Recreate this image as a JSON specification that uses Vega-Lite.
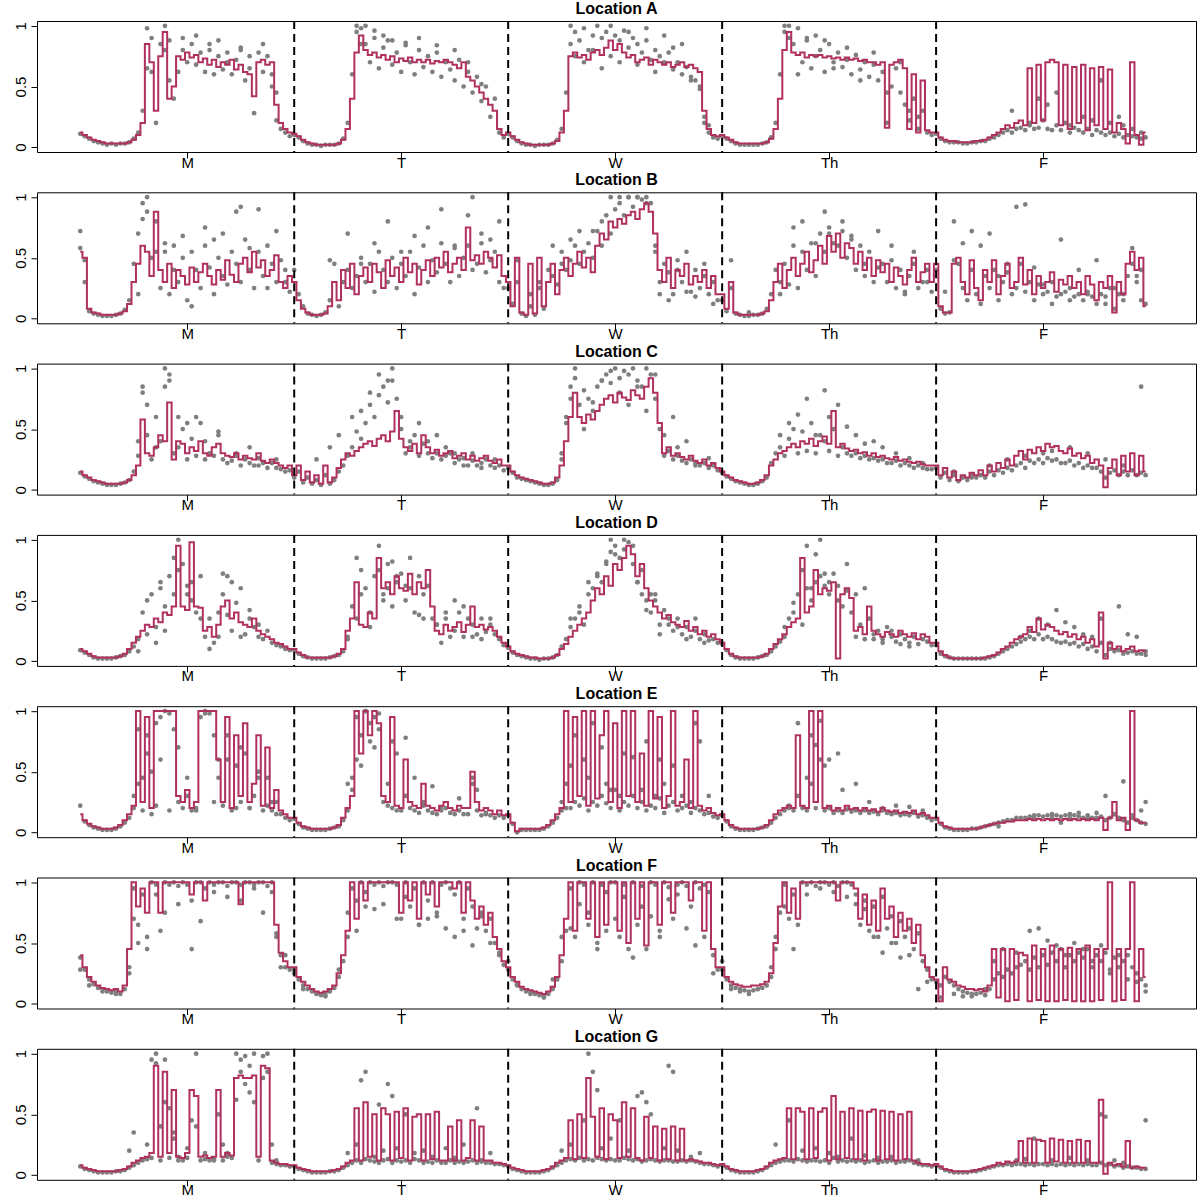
{
  "$schema": "https://vega.github.io/schema/vega-lite/v6.json",
  "background": "white",
  "padding": {"left": 12, "top": 0, "right": 3, "bottom": 0},
  "config": {
    "view": {"stroke": "black", "strokeWidth": 1},
    "axis": {"grid": false, "domain": false, "tickColor": "black", "tickSize": 6, "labelColor": "black", "labelFontSize": 15, "labelFont": "Liberation Sans"},
    "axisX": {"labelPadding": -3},
    "axisY": {"labelAngle": -90, "labelAlign": "center", "labelBaseline": "bottom", "labelPadding": 3},
    "title": {"fontSize": 16, "fontWeight": "bold", "font": "Liberation Sans", "color": "black", "offset": 3},
    "circle": {"size": 22, "color": "#7f7f7f", "opacity": 1},
    "line": {"color": "#b03060", "strokeWidth": 2, "interpolate": "step"}
  },
  "datasets": {
    "A": [
{"t":0,"y":12,"g":11},{"t":1,"y":10,"g":9},{"t":2,"y":8,"g":7},{"t":3,"y":6,"g":5},{"t":4,"y":5,"g":4},{"t":5,"y":4,"g":3},{"t":6,"y":3,"g":2},{"t":7,"y":3,"g":3},{"t":8,"y":3,"g":2},{"t":9,"y":3,"g":3},
{"t":10,"y":3,"g":3},{"t":11,"y":4,"g":4},{"t":12,"y":6,"g":7},{"t":13,"y":10,"g":12},{"t":14,"y":20,"g":30},{"t":15,"y":85,"g":65,"h":98},{"t":16,"y":70,"g":90,"h":62},{"t":17,"y":30,"g":20},{"t":18,"y":75,"g":85},{"t":19,"y":95,"g":80,"h":100},
{"t":20,"y":40,"g":55,"h":88},{"t":21,"y":50,"g":40},{"t":22,"y":75,"g":62},{"t":23,"y":72,"g":80,"h":90},{"t":24,"y":78,"g":70},{"t":25,"y":74,"g":85},{"t":26,"y":76,"g":68,"h":92},{"t":27,"y":70,"g":78},{"t":28,"y":73,"g":62},{"t":29,"y":68,"g":80,"h":85},
{"t":30,"y":72,"g":60},{"t":31,"y":66,"g":75,"h":88},{"t":32,"y":70,"g":64},{"t":33,"y":68,"g":78,"h":70},{"t":34,"y":72,"g":60},{"t":35,"y":64,"g":72},{"t":36,"y":68,"g":80,"h":82},{"t":37,"y":62,"g":55},{"t":38,"y":60,"g":65,"h":75},{"t":39,"y":42,"g":28},
{"t":40,"y":70,"g":78},{"t":41,"y":72,"g":62,"h":85},{"t":42,"y":68,"g":75},{"t":43,"y":70,"g":60,"h":50},{"t":44,"y":35,"g":45,"h":22},{"t":45,"y":20,"g":15},{"t":46,"y":15,"g":12},{"t":47,"y":12,"g":9},
{"t":48,"y":11,"g":10},{"t":49,"y":9,"g":8},{"t":50,"y":6,"g":5},{"t":51,"y":4,"g":3},{"t":52,"y":3,"g":2},{"t":53,"y":2,"g":2},{"t":54,"y":2,"g":1},{"t":55,"y":2,"g":2},{"t":56,"y":2,"g":2},{"t":57,"y":2,"g":2},
{"t":58,"y":3,"g":3},{"t":59,"y":6,"g":7},{"t":60,"y":15,"g":20},{"t":61,"y":40,"g":60},{"t":62,"y":78,"g":95,"h":100},{"t":63,"y":92,"g":85,"h":98},{"t":64,"y":80,"g":100,"h":85},{"t":65,"y":76,"g":70},{"t":66,"y":78,"g":90,"h":96},{"t":67,"y":74,"g":65},
{"t":68,"y":76,"g":82,"h":92},{"t":69,"y":72,"g":88},{"t":70,"y":75,"g":68,"h":88},{"t":71,"y":70,"g":78},{"t":72,"y":73,"g":62},{"t":73,"y":71,"g":84,"h":86},{"t":74,"y":74,"g":70},{"t":75,"y":70,"g":60},{"t":76,"y":72,"g":80,"h":90},{"t":77,"y":70,"g":66},
{"t":78,"y":72,"g":75},{"t":79,"y":69,"g":62},{"t":80,"y":71,"g":78,"h":84},{"t":81,"y":70,"g":58},{"t":82,"y":72,"g":70},{"t":83,"y":70,"g":64},{"t":84,"y":68,"g":55,"h":80},{"t":85,"y":65,"g":72},{"t":86,"y":70,"g":50},{"t":87,"y":58,"g":62,"h":70},
{"t":88,"y":55,"g":45},{"t":89,"y":50,"g":58},{"t":90,"y":45,"g":38,"h":52},{"t":91,"y":40,"g":50},{"t":92,"y":35,"g":25},{"t":93,"y":30,"g":40},{"t":94,"y":15,"g":12},{"t":95,"y":10,"g":8},
{"t":96,"y":12,"g":11},{"t":97,"y":9,"g":8},{"t":98,"y":6,"g":5},{"t":99,"y":4,"g":3},{"t":100,"y":3,"g":2},{"t":101,"y":2,"g":2},{"t":102,"y":2,"g":1},{"t":103,"y":2,"g":2},{"t":104,"y":2,"g":2},{"t":105,"y":2,"g":2},
{"t":106,"y":3,"g":3},{"t":107,"y":5,"g":6},{"t":108,"y":12,"g":15},{"t":109,"y":30,"g":45},{"t":110,"y":75,"g":85,"h":100},{"t":111,"y":78,"g":95,"h":75},{"t":112,"y":74,"g":88},{"t":113,"y":76,"g":98,"h":70},{"t":114,"y":72,"g":80},{"t":115,"y":78,"g":92,"h":80},
{"t":116,"y":80,"g":100},{"t":117,"y":76,"g":90,"h":65},{"t":118,"y":82,"g":95},{"t":119,"y":88,"g":100,"h":75},{"t":120,"y":80,"g":92},{"t":121,"y":85,"g":88,"h":70},{"t":122,"y":78,"g":96},{"t":123,"y":74,"g":82,"h":95},{"t":124,"y":76,"g":90},{"t":125,"y":70,"g":85,"h":68},
{"t":126,"y":72,"g":78},{"t":127,"y":74,"g":88,"h":98},{"t":128,"y":68,"g":72},{"t":129,"y":72,"g":80,"h":62},{"t":130,"y":70,"g":75},{"t":131,"y":68,"g":70,"h":92},{"t":132,"y":70,"g":78},{"t":133,"y":66,"g":64,"h":82},{"t":134,"y":68,"g":70},{"t":135,"y":70,"g":60,"h":85},
{"t":136,"y":66,"g":66},{"t":137,"y":68,"g":58,"h":55},{"t":138,"y":65,"g":55},{"t":139,"y":62,"g":50,"h":48},{"t":140,"y":30,"g":20,"h":25},{"t":141,"y":15,"g":12,"h":18},{"t":142,"y":10,"g":8},{"t":143,"y":9,"g":7},
{"t":144,"y":10,"g":9},{"t":145,"y":8,"g":7},{"t":146,"y":6,"g":5},{"t":147,"y":4,"g":3},{"t":148,"y":3,"g":2},{"t":149,"y":3,"g":2},{"t":150,"y":3,"g":2},{"t":151,"y":3,"g":2},{"t":152,"y":3,"g":2},{"t":153,"y":3,"g":3},
{"t":154,"y":4,"g":4},{"t":155,"y":7,"g":8},{"t":156,"y":15,"g":20},{"t":157,"y":40,"g":60},{"t":158,"y":80,"g":100,"h":95},{"t":159,"y":95,"g":90,"h":100},{"t":160,"y":78,"g":85},{"t":161,"y":76,"g":98,"h":60},{"t":162,"y":78,"g":70},{"t":163,"y":74,"g":88,"h":90},
{"t":164,"y":76,"g":65},{"t":165,"y":75,"g":92,"h":75},{"t":166,"y":76,"g":80},{"t":167,"y":74,"g":62,"h":88},{"t":168,"y":75,"g":85},{"t":169,"y":73,"g":70,"h":65},{"t":170,"y":74,"g":78},{"t":171,"y":72,"g":66},{"t":172,"y":74,"g":72,"h":82},{"t":173,"y":72,"g":60},
{"t":174,"y":73,"g":76},{"t":175,"y":71,"g":64,"h":55},{"t":176,"y":72,"g":70},{"t":177,"y":70,"g":58},{"t":178,"y":70,"g":68,"h":78},{"t":179,"y":68,"g":55},{"t":180,"y":70,"g":62},{"t":181,"y":16,"g":20,"h":45},{"t":182,"y":68,"g":50},{"t":183,"y":70,"g":65},
{"t":184,"y":72,"g":45,"h":70},{"t":185,"y":65,"g":35},{"t":186,"y":15,"g":22,"h":30},{"t":187,"y":60,"g":40},{"t":188,"y":12,"g":15,"h":25},{"t":189,"y":55,"g":30},{"t":190,"y":14,"g":12},{"t":191,"y":12,"g":10},
{"t":192,"y":12,"g":11},{"t":193,"y":8,"g":7},{"t":194,"y":6,"g":5},{"t":195,"y":5,"g":4},{"t":196,"y":5,"g":4},{"t":197,"y":4,"g":4},{"t":198,"y":4,"g":3},{"t":199,"y":4,"g":3},{"t":200,"y":4,"g":4},{"t":201,"y":5,"g":4},
{"t":202,"y":5,"g":5},{"t":203,"y":6,"g":5},{"t":204,"y":8,"g":7},{"t":205,"y":10,"g":8},{"t":206,"y":12,"g":10},{"t":207,"y":15,"g":12},{"t":208,"y":18,"g":14},{"t":209,"y":16,"g":12,"h":30},{"t":210,"y":20,"g":15},{"t":211,"y":22,"g":16},
{"t":212,"y":18,"g":14},{"t":213,"y":65,"g":18,"h":20},{"t":214,"y":20,"g":15},{"t":215,"y":68,"g":16,"h":40},{"t":216,"y":22,"g":22},{"t":217,"y":70,"g":15,"h":35},{"t":218,"y":72,"g":14},{"t":219,"y":70,"g":18,"h":45},{"t":220,"y":18,"g":14},{"t":221,"y":68,"g":20},
{"t":222,"y":15,"g":12,"h":18},{"t":223,"y":66,"g":16},{"t":224,"y":20,"g":14},{"t":225,"y":68,"g":12,"h":25},{"t":226,"y":14,"g":15},{"t":227,"y":65,"g":10,"h":22},{"t":228,"y":18,"g":14},{"t":229,"y":66,"g":12,"h":55},{"t":230,"y":15,"g":10},{"t":231,"y":64,"g":12,"h":20},
{"t":232,"y":12,"g":9},{"t":233,"y":20,"g":11,"h":25},{"t":234,"y":15,"g":8,"h":18},{"t":235,"y":3,"g":10},{"t":236,"y":70,"g":9,"h":15},{"t":237,"y":10,"g":8},{"t":238,"y":2,"g":7,"h":12},{"t":239,"y":12,"g":8}
    ],
    "B": [
{"t":0,"y":55,"g":58,"h":72},{"t":1,"y":50,"g":30,"h":48},{"t":2,"y":8,"g":6},{"t":3,"y":5,"g":4},{"t":4,"y":4,"g":3},{"t":5,"y":3,"g":2},{"t":6,"y":3,"g":2},{"t":7,"y":3,"g":2},{"t":8,"y":3,"g":3},{"t":9,"y":4,"g":4},
{"t":10,"y":6,"g":7},{"t":11,"y":12,"g":15},{"t":12,"y":30,"g":45},{"t":13,"y":45,"g":70,"h":20},{"t":14,"y":60,"g":95,"h":82},{"t":15,"y":55,"g":100,"h":88},{"t":16,"y":35,"g":50},{"t":17,"y":88,"g":80,"h":55},{"t":18,"y":40,"g":25},{"t":19,"y":30,"g":55,"h":62},
{"t":20,"y":45,"g":20},{"t":21,"y":25,"g":60,"h":40},{"t":22,"y":40,"g":30},{"t":23,"y":35,"g":50,"h":68},{"t":24,"y":28,"g":15},{"t":25,"y":42,"g":55,"h":10},{"t":26,"y":30,"g":40},{"t":27,"y":38,"g":25},{"t":28,"y":45,"g":60,"h":75},{"t":29,"y":35,"g":42},
{"t":30,"y":28,"g":20,"h":65},{"t":31,"y":40,"g":50},{"t":32,"y":32,"g":35,"h":70},{"t":33,"y":48,"g":28},{"t":34,"y":36,"g":55},{"t":35,"y":30,"g":45,"h":88},{"t":36,"y":45,"g":30,"h":92},{"t":37,"y":50,"g":65},{"t":38,"y":38,"g":40,"h":58},{"t":39,"y":55,"g":25},
{"t":40,"y":42,"g":55,"h":90},{"t":41,"y":48,"g":35},{"t":42,"y":35,"g":60,"h":25},{"t":43,"y":40,"g":45},{"t":44,"y":52,"g":30,"h":72},{"t":45,"y":30,"g":48},{"t":46,"y":25,"g":40,"h":30},{"t":47,"y":35,"g":22},
{"t":48,"y":30,"g":40},{"t":49,"y":15,"g":20},{"t":50,"y":8,"g":10},{"t":51,"y":5,"g":4},{"t":52,"y":3,"g":3},{"t":53,"y":3,"g":2},{"t":54,"y":3,"g":3},{"t":55,"y":4,"g":5},{"t":56,"y":10,"g":15,"h":48},{"t":57,"y":30,"g":45},
{"t":58,"y":15,"g":10},{"t":59,"y":40,"g":30},{"t":60,"y":25,"g":40,"h":70},{"t":61,"y":45,"g":25},{"t":62,"y":20,"g":35},{"t":63,"y":35,"g":50,"h":45},{"t":64,"y":42,"g":30},{"t":65,"y":30,"g":45},{"t":66,"y":45,"g":22,"h":62},{"t":67,"y":38,"g":55},
{"t":68,"y":25,"g":40},{"t":69,"y":48,"g":30,"h":80},{"t":70,"y":35,"g":50},{"t":71,"y":42,"g":25},{"t":72,"y":30,"g":45,"h":55},{"t":73,"y":50,"g":35},{"t":74,"y":38,"g":55},{"t":75,"y":45,"g":20,"h":68},{"t":76,"y":28,"g":42},{"t":77,"y":40,"g":60},
{"t":78,"y":48,"g":30,"h":75},{"t":79,"y":35,"g":48},{"t":80,"y":50,"g":38},{"t":81,"y":42,"g":62,"h":90},{"t":82,"y":55,"g":45},{"t":83,"y":38,"g":30},{"t":84,"y":45,"g":58,"h":60},{"t":85,"y":50,"g":35},{"t":86,"y":40,"g":50},{"t":87,"y":75,"g":60,"h":85},
{"t":88,"y":48,"g":40,"h":100},{"t":89,"y":52,"g":45},{"t":90,"y":45,"g":62,"h":70},{"t":91,"y":55,"g":38},{"t":92,"y":50,"g":48,"h":65},{"t":93,"y":42,"g":55},{"t":94,"y":52,"g":30,"h":80},{"t":95,"y":35,"g":25},
{"t":96,"y":30,"g":25},{"t":97,"y":10,"g":12},{"t":98,"y":50,"g":30,"h":48},{"t":99,"y":5,"g":4},{"t":100,"y":3,"g":2},{"t":101,"y":45,"g":20,"h":10},{"t":102,"y":4,"g":3},{"t":103,"y":50,"g":30,"h":25},{"t":104,"y":10,"g":8},{"t":105,"y":30,"g":40},
{"t":106,"y":45,"g":35,"h":60},{"t":107,"y":20,"g":28},{"t":108,"y":40,"g":55,"h":45},{"t":109,"y":50,"g":40},{"t":110,"y":35,"g":48,"h":65},{"t":111,"y":45,"g":60},{"t":112,"y":55,"g":45,"h":72},{"t":113,"y":42,"g":55},{"t":114,"y":50,"g":62},{"t":115,"y":38,"g":50,"h":72},
{"t":116,"y":60,"g":72},{"t":117,"y":70,"g":60,"h":80},{"t":118,"y":65,"g":85},{"t":119,"y":80,"g":70,"h":100},{"t":120,"y":75,"g":90},{"t":121,"y":82,"g":95,"h":100},{"t":122,"y":78,"g":85},{"t":123,"y":85,"g":100,"h":100},{"t":124,"y":88,"g":92},{"t":125,"y":82,"g":100,"h":100},
{"t":126,"y":90,"g":98},{"t":127,"y":95,"g":100,"h":95},{"t":128,"y":88,"g":95},{"t":129,"y":70,"g":60,"h":55},{"t":130,"y":40,"g":30,"h":20},{"t":131,"y":30,"g":45},{"t":132,"y":50,"g":38,"h":15},{"t":133,"y":25,"g":20},{"t":134,"y":40,"g":48,"h":40},{"t":135,"y":35,"g":30},
{"t":136,"y":45,"g":55,"h":22},{"t":137,"y":28,"g":22},{"t":138,"y":35,"g":40,"h":18},{"t":139,"y":30,"g":25},{"t":140,"y":40,"g":35,"h":45},{"t":141,"y":25,"g":20},{"t":142,"y":35,"g":30,"h":12},{"t":143,"y":20,"g":15},
{"t":144,"y":20,"g":15},{"t":145,"y":8,"g":6},{"t":146,"y":30,"g":25,"h":48},{"t":147,"y":5,"g":4},{"t":148,"y":3,"g":3},{"t":149,"y":3,"g":2},{"t":150,"y":3,"g":2,"h":5},{"t":151,"y":3,"g":3},{"t":152,"y":3,"g":3},{"t":153,"y":4,"g":4},
{"t":154,"y":6,"g":8},{"t":155,"y":15,"g":20},{"t":156,"y":30,"g":40},{"t":157,"y":45,"g":30,"h":20},{"t":158,"y":25,"g":45},{"t":159,"y":40,"g":28},{"t":160,"y":50,"g":60,"h":75},{"t":161,"y":35,"g":25},{"t":162,"y":45,"g":55,"h":80},{"t":163,"y":55,"g":40},
{"t":164,"y":38,"g":62},{"t":165,"y":48,"g":35,"h":62},{"t":166,"y":60,"g":70},{"t":167,"y":45,"g":55,"h":88},{"t":168,"y":68,"g":75,"h":70},{"t":169,"y":55,"g":62},{"t":170,"y":70,"g":60},{"t":171,"y":50,"g":72,"h":80},{"t":172,"y":62,"g":50},{"t":173,"y":58,"g":65,"h":68},
{"t":174,"y":45,"g":40},{"t":175,"y":55,"g":60},{"t":176,"y":40,"g":35,"h":45},{"t":177,"y":50,"g":55},{"t":178,"y":35,"g":30},{"t":179,"y":48,"g":42,"h":72},{"t":180,"y":38,"g":45},{"t":181,"y":45,"g":30},{"t":182,"y":30,"g":48,"h":60},{"t":183,"y":42,"g":25},
{"t":184,"y":35,"g":40},{"t":185,"y":28,"g":22,"h":20},{"t":186,"y":40,"g":35},{"t":187,"y":50,"g":45,"h":55},{"t":188,"y":30,"g":25},{"t":189,"y":38,"g":30},{"t":190,"y":45,"g":40,"h":30},{"t":191,"y":30,"g":22},
{"t":192,"y":45,"g":40},{"t":193,"y":10,"g":8},{"t":194,"y":5,"g":4,"h":22},{"t":195,"y":5,"g":5},{"t":196,"y":45,"g":48,"h":80},{"t":197,"y":50,"g":45},{"t":198,"y":30,"g":25,"h":62},{"t":199,"y":20,"g":15},{"t":200,"y":48,"g":40,"h":72},{"t":201,"y":25,"g":20},
{"t":202,"y":15,"g":12,"h":60},{"t":203,"y":40,"g":35},{"t":204,"y":30,"g":25,"h":70},{"t":205,"y":48,"g":40},{"t":206,"y":20,"g":15,"h":35},{"t":207,"y":35,"g":30},{"t":208,"y":45,"g":38,"h":45},{"t":209,"y":25,"g":20},{"t":210,"y":30,"g":25,"h":92},{"t":211,"y":50,"g":45},
{"t":212,"y":28,"g":22,"h":94},{"t":213,"y":40,"g":30},{"t":214,"y":20,"g":15,"h":42},{"t":215,"y":35,"g":28},{"t":216,"y":25,"g":20,"h":28},{"t":217,"y":30,"g":22},{"t":218,"y":38,"g":30,"h":12},{"t":219,"y":22,"g":18},{"t":220,"y":32,"g":20,"h":65},{"t":221,"y":28,"g":22},
{"t":222,"y":35,"g":25,"h":15},{"t":223,"y":25,"g":18},{"t":224,"y":30,"g":20,"h":40},{"t":225,"y":20,"g":15},{"t":226,"y":35,"g":22,"h":20},{"t":227,"y":28,"g":18},{"t":228,"y":15,"g":12,"h":48},{"t":229,"y":30,"g":20},{"t":230,"y":25,"g":18,"h":12},{"t":231,"y":35,"g":25},
{"t":232,"y":5,"g":8,"h":25},{"t":233,"y":30,"g":20},{"t":234,"y":20,"g":15,"h":20},{"t":235,"y":45,"g":35},{"t":236,"y":55,"g":45,"h":58},{"t":237,"y":40,"g":30,"h":35},{"t":238,"y":50,"g":40,"h":15},{"t":239,"y":10,"g":12}
    ],
    "C": [
{"t":0,"y":15,"g":14},{"t":1,"y":12,"g":11},{"t":2,"y":10,"g":9},{"t":3,"y":8,"g":7},{"t":4,"y":7,"g":6},{"t":5,"y":6,"g":5},{"t":6,"y":5,"g":4},{"t":7,"y":5,"g":4},{"t":8,"y":5,"g":4},{"t":9,"y":5,"g":5},
{"t":10,"y":6,"g":6},{"t":11,"y":8,"g":8},{"t":12,"y":12,"g":15},{"t":13,"y":20,"g":28,"h":40},{"t":14,"y":58,"g":80,"h":85},{"t":15,"y":30,"g":45,"h":70},{"t":16,"y":28,"g":25},{"t":17,"y":35,"g":60,"h":35},{"t":18,"y":45,"g":40},{"t":19,"y":40,"g":85,"h":100},
{"t":20,"y":72,"g":95,"h":90},{"t":21,"y":25,"g":30},{"t":22,"y":40,"g":35,"h":60},{"t":23,"y":38,"g":50},{"t":24,"y":30,"g":25,"h":55},{"t":25,"y":35,"g":42},{"t":26,"y":32,"g":28,"h":60},{"t":27,"y":40,"g":55},{"t":28,"y":30,"g":25,"h":40},{"t":29,"y":28,"g":30},
{"t":30,"y":35,"g":28},{"t":31,"y":38,"g":45,"h":48},{"t":32,"y":30,"g":25},{"t":33,"y":28,"g":22},{"t":34,"y":27,"g":24},{"t":35,"y":30,"g":28,"h":30},{"t":36,"y":25,"g":20},{"t":37,"y":28,"g":25},{"t":38,"y":26,"g":22,"h":35},{"t":39,"y":25,"g":20},
{"t":40,"y":30,"g":26,"h":20},{"t":41,"y":24,"g":22},{"t":42,"y":22,"g":18},{"t":43,"y":25,"g":22},{"t":44,"y":22,"g":18,"h":25},{"t":45,"y":20,"g":17},{"t":46,"y":18,"g":15},{"t":47,"y":20,"g":16},
{"t":48,"y":12,"g":10},{"t":49,"y":20,"g":15},{"t":50,"y":8,"g":6},{"t":51,"y":15,"g":10},{"t":52,"y":6,"g":5},{"t":53,"y":12,"g":8,"h":25},{"t":54,"y":5,"g":4},{"t":55,"y":20,"g":12},{"t":56,"y":6,"g":5,"h":35},{"t":57,"y":10,"g":8},
{"t":58,"y":18,"g":15,"h":45},{"t":59,"y":25,"g":20},{"t":60,"y":30,"g":28},{"t":61,"y":28,"g":35,"h":60},{"t":62,"y":32,"g":48},{"t":63,"y":35,"g":42,"h":65},{"t":64,"y":38,"g":55},{"t":65,"y":40,"g":70,"h":80},{"t":66,"y":36,"g":60},{"t":67,"y":42,"g":78,"h":95},
{"t":68,"y":45,"g":85},{"t":69,"y":40,"g":72,"h":90},{"t":70,"y":48,"g":90,"h":100},{"t":71,"y":65,"g":75},{"t":72,"y":42,"g":50,"h":60},{"t":73,"y":35,"g":30},{"t":74,"y":32,"g":40,"h":35},{"t":75,"y":38,"g":45},{"t":76,"y":30,"g":28,"h":55},{"t":77,"y":45,"g":38},
{"t":78,"y":35,"g":30,"h":40},{"t":79,"y":30,"g":26},{"t":80,"y":33,"g":30,"h":45},{"t":81,"y":28,"g":25},{"t":82,"y":30,"g":28,"h":35},{"t":83,"y":32,"g":30},{"t":84,"y":26,"g":22,"h":30},{"t":85,"y":28,"g":25},{"t":86,"y":30,"g":26,"h":20},{"t":87,"y":25,"g":20},
{"t":88,"y":28,"g":24,"h":30},{"t":89,"y":24,"g":20},{"t":90,"y":26,"g":22,"h":18},{"t":91,"y":28,"g":25},{"t":92,"y":24,"g":20},{"t":93,"y":22,"g":18,"h":25},{"t":94,"y":25,"g":20},{"t":95,"y":20,"g":16},
{"t":96,"y":20,"g":18},{"t":97,"y":15,"g":14},{"t":98,"y":12,"g":10},{"t":99,"y":10,"g":9},{"t":100,"y":9,"g":8},{"t":101,"y":8,"g":7},{"t":102,"y":7,"g":6},{"t":103,"y":6,"g":5},{"t":104,"y":5,"g":4},{"t":105,"y":5,"g":4},
{"t":106,"y":6,"g":5},{"t":107,"y":10,"g":8},{"t":108,"y":20,"g":25,"h":30},{"t":109,"y":40,"g":60,"h":55},{"t":110,"y":60,"g":85,"h":75},{"t":111,"y":80,"g":100,"h":92},{"t":112,"y":60,"g":70},{"t":113,"y":55,"g":50,"h":82},{"t":114,"y":62,"g":75},{"t":115,"y":58,"g":65,"h":72},
{"t":116,"y":65,"g":85},{"t":117,"y":70,"g":90,"h":90},{"t":118,"y":75,"g":95},{"t":119,"y":78,"g":88,"h":98},{"t":120,"y":72,"g":100},{"t":121,"y":80,"g":92,"h":80},{"t":122,"y":76,"g":98},{"t":123,"y":74,"g":95,"h":70},{"t":124,"y":82,"g":100},{"t":125,"y":78,"g":90,"h":85},
{"t":126,"y":75,"g":85},{"t":127,"y":85,"g":100,"h":65},{"t":128,"y":92,"g":95},{"t":129,"y":80,"g":75,"h":95},{"t":130,"y":55,"g":50},{"t":131,"y":30,"g":28,"h":45},{"t":132,"y":35,"g":32},{"t":133,"y":28,"g":25,"h":60},{"t":134,"y":30,"g":28,"h":35},{"t":135,"y":27,"g":24},
{"t":136,"y":25,"g":22,"h":40},{"t":137,"y":28,"g":25},{"t":138,"y":24,"g":20,"h":22},{"t":139,"y":22,"g":20},{"t":140,"y":25,"g":22},{"t":141,"y":20,"g":18,"h":26},{"t":142,"y":22,"g":20},{"t":143,"y":18,"g":16},
{"t":144,"y":15,"g":14},{"t":145,"y":12,"g":11},{"t":146,"y":10,"g":9},{"t":147,"y":8,"g":7},{"t":148,"y":7,"g":6},{"t":149,"y":6,"g":5},{"t":150,"y":5,"g":4},{"t":151,"y":5,"g":4},{"t":152,"y":6,"g":5},{"t":153,"y":8,"g":7},
{"t":154,"y":12,"g":10},{"t":155,"y":20,"g":22},{"t":156,"y":25,"g":30},{"t":157,"y":30,"g":35,"h":45},{"t":158,"y":32,"g":28},{"t":159,"y":35,"g":42,"h":55},{"t":160,"y":38,"g":50},{"t":161,"y":35,"g":30,"h":62},{"t":162,"y":40,"g":48},{"t":163,"y":38,"g":32,"h":75},
{"t":164,"y":42,"g":55},{"t":165,"y":36,"g":30,"h":45},{"t":166,"y":40,"g":45},{"t":167,"y":44,"g":40,"h":82},{"t":168,"y":38,"g":32,"h":60},{"t":169,"y":65,"g":50},{"t":170,"y":35,"g":28,"h":70},{"t":171,"y":38,"g":35},{"t":172,"y":34,"g":30,"h":52},{"t":173,"y":32,"g":28},
{"t":174,"y":33,"g":30,"h":45},{"t":175,"y":30,"g":26},{"t":176,"y":31,"g":28,"h":38},{"t":177,"y":28,"g":25},{"t":178,"y":30,"g":26,"h":40},{"t":179,"y":27,"g":24},{"t":180,"y":28,"g":25,"h":35},{"t":181,"y":26,"g":22},{"t":182,"y":25,"g":22},{"t":183,"y":27,"g":24,"h":30},
{"t":184,"y":24,"g":20},{"t":185,"y":25,"g":22},{"t":186,"y":23,"g":20,"h":26},{"t":187,"y":22,"g":18},{"t":188,"y":23,"g":20},{"t":189,"y":21,"g":18,"h":22},{"t":190,"y":20,"g":17},{"t":191,"y":20,"g":17},
{"t":192,"y":20,"g":18},{"t":193,"y":12,"g":10},{"t":194,"y":18,"g":14},{"t":195,"y":10,"g":8},{"t":196,"y":15,"g":12,"h":15},{"t":197,"y":8,"g":7},{"t":198,"y":12,"g":10},{"t":199,"y":10,"g":8},{"t":200,"y":14,"g":12,"h":10},{"t":201,"y":12,"g":10},
{"t":202,"y":16,"g":12},{"t":203,"y":12,"g":10},{"t":204,"y":20,"g":15,"h":20},{"t":205,"y":15,"g":12},{"t":206,"y":22,"g":16},{"t":207,"y":18,"g":14},{"t":208,"y":25,"g":18,"h":25},{"t":209,"y":20,"g":16},{"t":210,"y":28,"g":20},{"t":211,"y":32,"g":22},
{"t":212,"y":25,"g":18,"h":28},{"t":213,"y":33,"g":24},{"t":214,"y":30,"g":22},{"t":215,"y":35,"g":25},{"t":216,"y":32,"g":22,"h":30},{"t":217,"y":38,"g":26},{"t":218,"y":35,"g":24,"h":32},{"t":219,"y":36,"g":25},{"t":220,"y":32,"g":22},{"t":221,"y":30,"g":22},
{"t":222,"y":34,"g":24,"h":35},{"t":223,"y":28,"g":20},{"t":224,"y":30,"g":22},{"t":225,"y":26,"g":18},{"t":226,"y":28,"g":20,"h":30},{"t":227,"y":22,"g":18},{"t":228,"y":25,"g":18},{"t":229,"y":20,"g":15},{"t":230,"y":2,"g":10,"h":25},{"t":231,"y":18,"g":14},
{"t":232,"y":25,"g":16},{"t":233,"y":12,"g":12},{"t":234,"y":28,"g":15,"h":20},{"t":235,"y":15,"g":12},{"t":236,"y":30,"g":16},{"t":237,"y":12,"g":12},{"t":238,"y":28,"g":14,"h":85},{"t":239,"y":15,"g":12}
    ],
    "D": [
{"t":0,"y":10,"g":9},{"t":1,"y":8,"g":7},{"t":2,"y":6,"g":5},{"t":3,"y":4,"g":3},{"t":4,"y":3,"g":2},{"t":5,"y":3,"g":2},{"t":6,"y":3,"g":2},{"t":7,"y":3,"g":2},{"t":8,"y":3,"g":3},{"t":9,"y":4,"g":4},
{"t":10,"y":6,"g":5},{"t":11,"y":10,"g":8},{"t":12,"y":15,"g":12},{"t":13,"y":20,"g":18,"h":8},{"t":14,"y":25,"g":40},{"t":15,"y":30,"g":22,"h":50},{"t":16,"y":28,"g":55},{"t":17,"y":35,"g":28,"h":15},{"t":18,"y":32,"g":60,"h":65},{"t":19,"y":40,"g":45,"h":25},
{"t":20,"y":38,"g":70},{"t":21,"y":45,"g":55,"h":85},{"t":22,"y":95,"g":75,"h":100},{"t":23,"y":45,"g":80},{"t":24,"y":42,"g":62,"h":55},{"t":25,"y":98,"g":50,"h":65},{"t":26,"y":45,"g":40},{"t":27,"y":44,"g":70,"h":35},{"t":28,"y":25,"g":20},{"t":29,"y":28,"g":35,"h":10},
{"t":30,"y":20,"g":15},{"t":31,"y":30,"g":40,"h":20},{"t":32,"y":45,"g":55,"h":72},{"t":33,"y":50,"g":38,"h":70},{"t":34,"y":35,"g":25,"h":65},{"t":35,"y":40,"g":48},{"t":36,"y":32,"g":60,"h":20},{"t":37,"y":30,"g":22},{"t":38,"y":28,"g":35,"h":42},{"t":39,"y":35,"g":28},
{"t":40,"y":25,"g":20,"h":30},{"t":41,"y":22,"g":18},{"t":42,"y":20,"g":25},{"t":43,"y":18,"g":15},{"t":44,"y":15,"g":13},{"t":45,"y":14,"g":12},{"t":46,"y":12,"g":10},{"t":47,"y":10,"g":9},
{"t":48,"y":10,"g":9},{"t":49,"y":7,"g":6},{"t":50,"y":5,"g":4},{"t":51,"y":3,"g":3},{"t":52,"y":3,"g":2},{"t":53,"y":3,"g":2},{"t":54,"y":3,"g":2},{"t":55,"y":3,"g":2},{"t":56,"y":3,"g":3},{"t":57,"y":4,"g":4},
{"t":58,"y":6,"g":5},{"t":59,"y":10,"g":8},{"t":60,"y":25,"g":20,"h":18},{"t":61,"y":35,"g":45},{"t":62,"y":65,"g":35,"h":85},{"t":63,"y":30,"g":55,"h":75},{"t":64,"y":28,"g":60},{"t":65,"y":40,"g":28,"h":40},{"t":66,"y":35,"g":70},{"t":67,"y":85,"g":75,"h":95},
{"t":68,"y":60,"g":50,"h":55},{"t":69,"y":65,"g":80,"h":60},{"t":70,"y":55,"g":45,"h":82},{"t":71,"y":70,"g":65,"h":70},{"t":72,"y":60,"g":72},{"t":73,"y":58,"g":50,"h":62},{"t":74,"y":72,"g":60,"h":85},{"t":75,"y":55,"g":40},{"t":76,"y":65,"g":70,"h":38},{"t":77,"y":60,"g":55,"h":35},
{"t":78,"y":75,"g":62},{"t":79,"y":45,"g":35},{"t":80,"y":25,"g":30,"h":30},{"t":81,"y":22,"g":15},{"t":82,"y":30,"g":35,"h":40},{"t":83,"y":25,"g":20},{"t":84,"y":28,"g":25,"h":50},{"t":85,"y":32,"g":40},{"t":86,"y":24,"g":20,"h":45},{"t":87,"y":30,"g":35},
{"t":88,"y":45,"g":30,"h":20},{"t":89,"y":28,"g":22},{"t":90,"y":30,"g":35,"h":18},{"t":91,"y":26,"g":24},{"t":92,"y":28,"g":30,"h":35},{"t":93,"y":25,"g":22},{"t":94,"y":20,"g":18},{"t":95,"y":15,"g":13},
{"t":96,"y":12,"g":11},{"t":97,"y":8,"g":7},{"t":98,"y":6,"g":5},{"t":99,"y":5,"g":4},{"t":100,"y":4,"g":3},{"t":101,"y":3,"g":2},{"t":102,"y":3,"g":2},{"t":103,"y":2,"g":1},{"t":104,"y":2,"g":2},{"t":105,"y":2,"g":2},
{"t":106,"y":3,"g":3},{"t":107,"y":5,"g":5},{"t":108,"y":10,"g":12},{"t":109,"y":14,"g":18},{"t":110,"y":20,"g":28,"h":35},{"t":111,"y":25,"g":35},{"t":112,"y":30,"g":40,"h":45},{"t":113,"y":35,"g":30},{"t":114,"y":40,"g":55,"h":65},{"t":115,"y":50,"g":60},
{"t":116,"y":60,"g":72,"h":70},{"t":117,"y":55,"g":65},{"t":118,"y":70,"g":82,"h":80},{"t":119,"y":62,"g":90,"h":100},{"t":120,"y":80,"g":95,"h":88},{"t":121,"y":75,"g":85},{"t":122,"y":85,"g":100,"h":92},{"t":123,"y":95,"g":98},{"t":124,"y":88,"g":80,"h":95},{"t":125,"y":70,"g":65,"h":65},
{"t":126,"y":80,"g":75,"h":55},{"t":127,"y":60,"g":50,"h":42},{"t":128,"y":50,"g":40,"h":55},{"t":129,"y":45,"g":55,"h":50},{"t":130,"y":40,"g":30,"h":22},{"t":131,"y":35,"g":42},{"t":132,"y":38,"g":30,"h":35},{"t":133,"y":32,"g":25},{"t":134,"y":30,"g":35,"h":28},{"t":135,"y":28,"g":22},
{"t":136,"y":33,"g":28,"h":18},{"t":137,"y":25,"g":20},{"t":138,"y":28,"g":25,"h":35},{"t":139,"y":22,"g":18},{"t":140,"y":25,"g":22,"h":15},{"t":141,"y":20,"g":17},{"t":142,"y":22,"g":18},{"t":143,"y":18,"g":15},
{"t":144,"y":15,"g":14},{"t":145,"y":10,"g":9},{"t":146,"y":6,"g":5},{"t":147,"y":4,"g":3},{"t":148,"y":3,"g":2},{"t":149,"y":3,"g":2},{"t":150,"y":3,"g":2},{"t":151,"y":3,"g":2},{"t":152,"y":3,"g":3},{"t":153,"y":4,"g":4},
{"t":154,"y":6,"g":5},{"t":155,"y":10,"g":8},{"t":156,"y":14,"g":12},{"t":157,"y":18,"g":16},{"t":158,"y":22,"g":28,"h":20},{"t":159,"y":28,"g":35},{"t":160,"y":32,"g":40,"h":48},{"t":161,"y":35,"g":55},{"t":162,"y":85,"g":30,"h":75},{"t":163,"y":40,"g":60,"h":95},
{"t":164,"y":45,"g":50,"h":60},{"t":165,"y":75,"g":65,"h":88},{"t":166,"y":55,"g":70,"h":100},{"t":167,"y":60,"g":62,"h":72},{"t":168,"y":58,"g":55,"h":65},{"t":169,"y":65,"g":72},{"t":170,"y":2,"g":50,"h":62},{"t":171,"y":55,"g":45},{"t":172,"y":60,"g":58,"h":80},{"t":173,"y":52,"g":40},
{"t":174,"y":25,"g":20,"h":55},{"t":175,"y":28,"g":30},{"t":176,"y":22,"g":18,"h":60},{"t":177,"y":45,"g":35},{"t":178,"y":25,"g":22,"h":18},{"t":179,"y":22,"g":25},{"t":180,"y":20,"g":18,"h":15},{"t":181,"y":24,"g":28},{"t":182,"y":22,"g":20,"h":25},{"t":183,"y":20,"g":16},
{"t":184,"y":25,"g":22,"h":14},{"t":185,"y":22,"g":18},{"t":186,"y":20,"g":15,"h":12},{"t":187,"y":23,"g":20},{"t":188,"y":18,"g":14},{"t":189,"y":22,"g":18},{"t":190,"y":20,"g":16},{"t":191,"y":15,"g":13},
{"t":192,"y":15,"g":13},{"t":193,"y":8,"g":6},{"t":194,"y":5,"g":4},{"t":195,"y":3,"g":3},{"t":196,"y":2,"g":2},{"t":197,"y":2,"g":2},{"t":198,"y":2,"g":2},{"t":199,"y":2,"g":2},{"t":200,"y":2,"g":2},{"t":201,"y":2,"g":2},
{"t":202,"y":2,"g":2},{"t":203,"y":3,"g":2},{"t":204,"y":4,"g":3},{"t":205,"y":5,"g":4},{"t":206,"y":7,"g":6},{"t":207,"y":10,"g":8},{"t":208,"y":12,"g":10},{"t":209,"y":15,"g":12},{"t":210,"y":18,"g":14},{"t":211,"y":20,"g":16,"h":20},
{"t":212,"y":22,"g":18},{"t":213,"y":28,"g":20,"h":25},{"t":214,"y":24,"g":18},{"t":215,"y":35,"g":22,"h":35},{"t":216,"y":26,"g":18},{"t":217,"y":30,"g":20,"h":30},{"t":218,"y":28,"g":18},{"t":219,"y":25,"g":16,"h":42},{"t":220,"y":22,"g":15},{"t":221,"y":24,"g":16,"h":32},
{"t":222,"y":20,"g":14},{"t":223,"y":22,"g":15,"h":28},{"t":224,"y":18,"g":12},{"t":225,"y":20,"g":14,"h":22},{"t":226,"y":15,"g":10},{"t":227,"y":18,"g":12,"h":20},{"t":228,"y":12,"g":8},{"t":229,"y":40,"g":15,"h":35},{"t":230,"y":2,"g":5},{"t":231,"y":15,"g":10,"h":15},
{"t":232,"y":10,"g":8},{"t":233,"y":12,"g":9,"h":45},{"t":234,"y":8,"g":6},{"t":235,"y":10,"g":7,"h":22},{"t":236,"y":12,"g":8},{"t":237,"y":8,"g":6,"h":20},{"t":238,"y":9,"g":6},{"t":239,"y":8,"g":5,"h":8}
    ],
    "E": [
{"t":0,"y":15,"g":22},{"t":1,"y":10,"g":9},{"t":2,"y":7,"g":6},{"t":3,"y":5,"g":4},{"t":4,"y":4,"g":3},{"t":5,"y":3,"g":2},{"t":6,"y":3,"g":2},{"t":7,"y":3,"g":2},{"t":8,"y":4,"g":3},{"t":9,"y":6,"g":5},
{"t":10,"y":10,"g":8},{"t":11,"y":15,"g":12},{"t":12,"y":22,"g":20,"h":30},{"t":13,"y":100,"g":40,"h":85},{"t":14,"y":25,"g":18,"h":45},{"t":15,"y":95,"g":65,"h":80},{"t":16,"y":20,"g":15,"h":50},{"t":17,"y":100,"g":90,"h":22},{"t":18,"y":100,"g":95,"h":60},{"t":19,"y":100,"g":100},
{"t":20,"y":100,"g":98,"h":18},{"t":21,"y":100,"g":85},{"t":22,"y":30,"g":25,"h":70},{"t":23,"y":25,"g":20},{"t":24,"y":35,"g":30,"h":45},{"t":25,"y":20,"g":18},{"t":26,"y":25,"g":20,"h":18},{"t":27,"y":100,"g":95},{"t":28,"y":100,"g":100,"h":98},{"t":29,"y":100,"g":98},
{"t":30,"y":100,"g":80,"h":25},{"t":31,"y":60,"g":45,"h":60},{"t":32,"y":25,"g":22},{"t":33,"y":95,"g":60,"h":80},{"t":34,"y":20,"g":18},{"t":35,"y":80,"g":55,"h":20},{"t":36,"y":30,"g":25,"h":70},{"t":37,"y":90,"g":65},{"t":38,"y":25,"g":20,"h":20},{"t":39,"y":40,"g":30},
{"t":40,"y":80,"g":50,"h":45},{"t":41,"y":22,"g":18},{"t":42,"y":70,"g":45,"h":22},{"t":43,"y":20,"g":18,"h":25},{"t":44,"y":35,"g":25,"h":15},{"t":45,"y":18,"g":15},{"t":46,"y":15,"g":12},{"t":47,"y":12,"g":10},
{"t":48,"y":12,"g":11},{"t":49,"y":8,"g":7},{"t":50,"y":5,"g":4},{"t":51,"y":4,"g":3},{"t":52,"y":3,"g":2},{"t":53,"y":3,"g":2},{"t":54,"y":3,"g":2},{"t":55,"y":3,"g":2},{"t":56,"y":3,"g":3},{"t":57,"y":4,"g":4},
{"t":58,"y":6,"g":5},{"t":59,"y":12,"g":10},{"t":60,"y":20,"g":18,"h":40},{"t":61,"y":30,"g":35,"h":45},{"t":62,"y":100,"g":95,"h":60},{"t":63,"y":65,"g":55,"h":80},{"t":64,"y":100,"g":100,"h":100},{"t":65,"y":80,"g":75,"h":90},{"t":66,"y":100,"g":95,"h":70},{"t":67,"y":90,"g":85,"h":98},
{"t":68,"y":30,"g":25},{"t":69,"y":25,"g":22,"h":40},{"t":70,"y":95,"g":20,"h":75},{"t":71,"y":22,"g":18,"h":65},{"t":72,"y":20,"g":18},{"t":73,"y":60,"g":30,"h":78},{"t":74,"y":25,"g":20},{"t":75,"y":22,"g":18,"h":45},{"t":76,"y":20,"g":16},{"t":77,"y":40,"g":22,"h":25},
{"t":78,"y":22,"g":18},{"t":79,"y":20,"g":16,"h":38},{"t":80,"y":18,"g":15},{"t":81,"y":22,"g":18,"h":20},{"t":82,"y":25,"g":20},{"t":83,"y":20,"g":16},{"t":84,"y":18,"g":15},{"t":85,"y":22,"g":18,"h":28},{"t":86,"y":20,"g":15},{"t":87,"y":20,"g":15},
{"t":88,"y":50,"g":40,"h":45},{"t":89,"y":25,"g":18,"h":35},{"t":90,"y":18,"g":14},{"t":91,"y":20,"g":16,"h":15},{"t":92,"y":18,"g":14},{"t":93,"y":15,"g":12},{"t":94,"y":18,"g":14},{"t":95,"y":14,"g":12},
{"t":96,"y":15,"g":14},{"t":97,"y":8,"g":7},{"t":98,"y":1,"g":0},{"t":99,"y":3,"g":2},{"t":100,"y":3,"g":2},{"t":101,"y":3,"g":2},{"t":102,"y":3,"g":2},{"t":103,"y":3,"g":2},{"t":104,"y":4,"g":3},{"t":105,"y":6,"g":5},
{"t":106,"y":10,"g":8},{"t":107,"y":15,"g":12},{"t":108,"y":20,"g":18,"h":25},{"t":109,"y":100,"g":20,"h":40},{"t":110,"y":25,"g":20,"h":55},{"t":111,"y":95,"g":25,"h":80},{"t":112,"y":30,"g":22},{"t":113,"y":100,"g":28,"h":60},{"t":114,"y":22,"g":18,"h":45},{"t":115,"y":100,"g":25,"h":90},
{"t":116,"y":28,"g":22},{"t":117,"y":80,"g":30,"h":70},{"t":118,"y":100,"g":24,"h":40},{"t":119,"y":25,"g":20,"h":35},{"t":120,"y":90,"g":35},{"t":121,"y":20,"g":18,"h":30},{"t":122,"y":100,"g":25,"h":65},{"t":123,"y":30,"g":22},{"t":124,"y":100,"g":30,"h":62},{"t":125,"y":25,"g":20},
{"t":126,"y":65,"g":25,"h":35},{"t":127,"y":22,"g":18,"h":75},{"t":128,"y":100,"g":22},{"t":129,"y":28,"g":20,"h":30},{"t":130,"y":95,"g":28,"h":60},{"t":131,"y":20,"g":16,"h":40},{"t":132,"y":30,"g":22},{"t":133,"y":100,"g":25,"h":55},{"t":134,"y":22,"g":18},{"t":135,"y":25,"g":20,"h":30},
{"t":136,"y":60,"g":22},{"t":137,"y":20,"g":16,"h":25},{"t":138,"y":100,"g":20,"h":90},{"t":139,"y":22,"g":18,"h":75},{"t":140,"y":18,"g":15},{"t":141,"y":20,"g":16,"h":30},{"t":142,"y":16,"g":13},{"t":143,"y":14,"g":12},
{"t":144,"y":15,"g":14},{"t":145,"y":10,"g":9},{"t":146,"y":6,"g":5},{"t":147,"y":4,"g":3},{"t":148,"y":3,"g":2},{"t":149,"y":3,"g":2},{"t":150,"y":3,"g":2},{"t":151,"y":3,"g":2},{"t":152,"y":3,"g":3},{"t":153,"y":4,"g":4},
{"t":154,"y":6,"g":5},{"t":155,"y":10,"g":8},{"t":156,"y":15,"g":12},{"t":157,"y":18,"g":15},{"t":158,"y":20,"g":18},{"t":159,"y":22,"g":20,"h":22},{"t":160,"y":20,"g":18},{"t":161,"y":80,"g":30,"h":90},{"t":162,"y":22,"g":20},{"t":163,"y":20,"g":18,"h":45},
{"t":164,"y":100,"g":40,"h":80},{"t":165,"y":25,"g":20,"h":72},{"t":166,"y":100,"g":60,"h":92},{"t":167,"y":20,"g":18,"h":55},{"t":168,"y":22,"g":20,"h":60},{"t":169,"y":18,"g":16},{"t":170,"y":20,"g":18,"h":65},{"t":171,"y":18,"g":16,"h":35},{"t":172,"y":22,"g":19},{"t":173,"y":19,"g":17},
{"t":174,"y":20,"g":18,"h":40},{"t":175,"y":18,"g":16},{"t":176,"y":20,"g":18},{"t":177,"y":18,"g":16,"h":25},{"t":178,"y":19,"g":17},{"t":179,"y":17,"g":15},{"t":180,"y":20,"g":18,"h":20},{"t":181,"y":18,"g":16},{"t":182,"y":17,"g":15},{"t":183,"y":18,"g":16,"h":22},
{"t":184,"y":16,"g":14},{"t":185,"y":17,"g":15},{"t":186,"y":16,"g":14,"h":21},{"t":187,"y":18,"g":16},{"t":188,"y":15,"g":13},{"t":189,"y":16,"g":14,"h":18},{"t":190,"y":14,"g":12},{"t":191,"y":12,"g":10},
{"t":192,"y":12,"g":11},{"t":193,"y":8,"g":7},{"t":194,"y":5,"g":4},{"t":195,"y":4,"g":3},{"t":196,"y":3,"g":2},{"t":197,"y":3,"g":2},{"t":198,"y":3,"g":2},{"t":199,"y":3,"g":2},{"t":200,"y":3,"g":3},{"t":201,"y":3,"g":3},
{"t":202,"y":4,"g":4},{"t":203,"y":5,"g":5},{"t":204,"y":6,"g":6},{"t":205,"y":7,"g":7},{"t":206,"y":8,"g":8,"h":5},{"t":207,"y":8,"g":9},{"t":208,"y":9,"g":10},{"t":209,"y":9,"g":10},{"t":210,"y":10,"g":11,"h":12},{"t":211,"y":10,"g":12},
{"t":212,"y":10,"g":12},{"t":213,"y":11,"g":13},{"t":214,"y":10,"g":12,"h":14},{"t":215,"y":11,"g":14},{"t":216,"y":10,"g":13},{"t":217,"y":11,"g":14},{"t":218,"y":10,"g":12,"h":15},{"t":219,"y":11,"g":14},{"t":220,"y":10,"g":13,"h":8},{"t":221,"y":11,"g":14},
{"t":222,"y":10,"g":12,"h":15},{"t":223,"y":11,"g":14},{"t":224,"y":10,"g":13,"h":16},{"t":225,"y":11,"g":12},{"t":226,"y":10,"g":14,"h":12},{"t":227,"y":11,"g":12},{"t":228,"y":10,"g":12,"h":16},{"t":229,"y":12,"g":13},{"t":230,"y":2,"g":10,"h":30},{"t":231,"y":12,"g":12},
{"t":232,"y":25,"g":15,"h":15},{"t":233,"y":10,"g":12},{"t":234,"y":12,"g":10,"h":42},{"t":235,"y":2,"g":8},{"t":236,"y":100,"g":12,"h":14},{"t":237,"y":10,"g":10},{"t":238,"y":8,"g":8,"h":18},{"t":239,"y":8,"g":7,"h":25}
    ],
    "F": [
{"t":0,"y":40,"g":38,"h":28},{"t":1,"y":30,"g":28},{"t":2,"y":22,"g":20,"h":15},{"t":3,"y":18,"g":16},{"t":4,"y":15,"g":13},{"t":5,"y":13,"g":12,"h":10},{"t":6,"y":12,"g":10},{"t":7,"y":11,"g":9},{"t":8,"y":12,"g":10,"h":8},{"t":9,"y":10,"g":8},
{"t":10,"y":15,"g":12},{"t":11,"y":45,"g":30,"h":25},{"t":12,"y":100,"g":95,"h":70},{"t":13,"y":80,"g":65,"h":50},{"t":14,"y":95,"g":90},{"t":15,"y":75,"g":55,"h":45},{"t":16,"y":100,"g":100},{"t":17,"y":100,"g":98,"h":90},{"t":18,"y":75,"g":60},{"t":19,"y":100,"g":100,"h":75},
{"t":20,"y":100,"g":98},{"t":21,"y":100,"g":100},{"t":22,"y":100,"g":97,"h":82},{"t":23,"y":100,"g":100},{"t":24,"y":100,"g":98},{"t":25,"y":90,"g":85,"h":45},{"t":26,"y":100,"g":100},{"t":27,"y":100,"g":100,"h":68},{"t":28,"y":85,"g":95},{"t":29,"y":100,"g":100},
{"t":30,"y":100,"g":98,"h":92},{"t":31,"y":100,"g":100},{"t":32,"y":100,"g":100},{"t":33,"y":100,"g":97,"h":88},{"t":34,"y":100,"g":100},{"t":35,"y":100,"g":100},{"t":36,"y":82,"g":98,"h":85},{"t":37,"y":100,"g":100},{"t":38,"y":100,"g":100},{"t":39,"y":100,"g":95,"h":98},
{"t":40,"y":100,"g":100},{"t":41,"y":100,"g":100,"h":75},{"t":42,"y":100,"g":97},{"t":43,"y":100,"g":100,"h":92},{"t":44,"y":65,"g":58,"h":55},{"t":45,"y":42,"g":40,"h":30},{"t":46,"y":35,"g":30,"h":40},{"t":47,"y":30,"g":28},
{"t":48,"y":30,"g":28,"h":25},{"t":49,"y":22,"g":20},{"t":50,"y":18,"g":15,"h":12},{"t":51,"y":15,"g":12},{"t":52,"y":12,"g":10},{"t":53,"y":10,"g":8,"h":8},{"t":54,"y":9,"g":7},{"t":55,"y":10,"g":8,"h":6},{"t":56,"y":12,"g":10},{"t":57,"y":15,"g":13},
{"t":58,"y":25,"g":22,"h":28},{"t":59,"y":40,"g":35},{"t":60,"y":60,"g":55,"h":75},{"t":61,"y":100,"g":95},{"t":62,"y":70,"g":60,"h":85},{"t":63,"y":100,"g":100},{"t":64,"y":85,"g":80,"h":92},{"t":65,"y":100,"g":100},{"t":66,"y":100,"g":98,"h":78},{"t":67,"y":100,"g":100},
{"t":68,"y":100,"g":97,"h":82},{"t":69,"y":100,"g":100},{"t":70,"y":100,"g":100},{"t":71,"y":100,"g":98,"h":70},{"t":72,"y":75,"g":70},{"t":73,"y":100,"g":100,"h":88},{"t":74,"y":85,"g":80},{"t":75,"y":100,"g":95},{"t":76,"y":70,"g":65,"h":65},{"t":77,"y":100,"g":100},
{"t":78,"y":90,"g":85,"h":70},{"t":79,"y":100,"g":100},{"t":80,"y":80,"g":75,"h":72},{"t":81,"y":100,"g":98},{"t":82,"y":100,"g":100,"h":62},{"t":83,"y":100,"g":95},{"t":84,"y":95,"g":90,"h":55},{"t":85,"y":100,"g":100},{"t":86,"y":75,"g":70,"h":60},{"t":87,"y":100,"g":95},
{"t":88,"y":85,"g":80,"h":48},{"t":89,"y":70,"g":62},{"t":90,"y":80,"g":75,"h":72},{"t":91,"y":65,"g":60},{"t":92,"y":75,"g":70,"h":50},{"t":93,"y":55,"g":50},{"t":94,"y":45,"g":40,"h":42},{"t":95,"y":35,"g":32},
{"t":96,"y":30,"g":28,"h":35},{"t":97,"y":22,"g":20},{"t":98,"y":18,"g":16,"h":15},{"t":99,"y":14,"g":12},{"t":100,"y":12,"g":10},{"t":101,"y":11,"g":9,"h":8},{"t":102,"y":10,"g":8},{"t":103,"y":9,"g":7},{"t":104,"y":8,"g":6,"h":5},{"t":105,"y":10,"g":8},
{"t":106,"y":14,"g":12,"h":20},{"t":107,"y":22,"g":20},{"t":108,"y":40,"g":35,"h":55},{"t":109,"y":70,"g":60},{"t":110,"y":100,"g":95,"h":62},{"t":111,"y":60,"g":55},{"t":112,"y":100,"g":100,"h":82},{"t":113,"y":100,"g":98},{"t":114,"y":70,"g":65,"h":75},{"t":115,"y":100,"g":100},
{"t":116,"y":55,"g":50,"h":45},{"t":117,"y":100,"g":98},{"t":118,"y":65,"g":60,"h":92},{"t":119,"y":100,"g":100},{"t":120,"y":100,"g":100,"h":70},{"t":121,"y":60,"g":55},{"t":122,"y":100,"g":98,"h":88},{"t":123,"y":50,"g":45},{"t":124,"y":100,"g":100,"h":38},{"t":125,"y":70,"g":65},
{"t":126,"y":100,"g":97,"h":80},{"t":127,"y":48,"g":45},{"t":128,"y":100,"g":100,"h":72},{"t":129,"y":100,"g":98},{"t":130,"y":65,"g":60,"h":55},{"t":131,"y":100,"g":100},{"t":132,"y":100,"g":96,"h":86},{"t":133,"y":75,"g":70},{"t":134,"y":100,"g":98,"h":90},{"t":135,"y":100,"g":100},
{"t":136,"y":100,"g":97,"h":62},{"t":137,"y":85,"g":80},{"t":138,"y":100,"g":100,"h":48},{"t":139,"y":100,"g":95},{"t":140,"y":60,"g":55,"h":98},{"t":141,"y":100,"g":92},{"t":142,"y":45,"g":40,"h":25},{"t":143,"y":30,"g":28},
{"t":144,"y":30,"g":28,"h":35},{"t":145,"y":22,"g":20},{"t":146,"y":18,"g":15,"h":12},{"t":147,"y":16,"g":13},{"t":148,"y":15,"g":12,"h":10},{"t":149,"y":14,"g":11},{"t":150,"y":14,"g":10,"h":8},{"t":151,"y":15,"g":11},{"t":152,"y":15,"g":12,"h":12},{"t":153,"y":16,"g":13},
{"t":154,"y":18,"g":15},{"t":155,"y":25,"g":22,"h":30},{"t":156,"y":50,"g":45,"h":55},{"t":157,"y":80,"g":75},{"t":158,"y":100,"g":98,"h":80},{"t":159,"y":75,"g":70},{"t":160,"y":95,"g":90,"h":45},{"t":161,"y":70,"g":65},{"t":162,"y":100,"g":100},{"t":163,"y":100,"g":98,"h":90},
{"t":164,"y":100,"g":100},{"t":165,"y":100,"g":97},{"t":166,"y":100,"g":100,"h":95},{"t":167,"y":100,"g":100},{"t":168,"y":100,"g":98},{"t":169,"y":100,"g":100,"h":92},{"t":170,"y":85,"g":97},{"t":171,"y":100,"g":100},{"t":172,"y":100,"g":100,"h":88},{"t":173,"y":100,"g":98},
{"t":174,"y":95,"g":90,"h":82},{"t":175,"y":70,"g":65},{"t":176,"y":90,"g":85,"h":78},{"t":177,"y":65,"g":60},{"t":178,"y":85,"g":80,"h":55},{"t":179,"y":60,"g":55},{"t":180,"y":95,"g":88,"h":42},{"t":181,"y":70,"g":62},{"t":182,"y":80,"g":72,"h":50},{"t":183,"y":55,"g":50},
{"t":184,"y":75,"g":68,"h":38},{"t":185,"y":60,"g":55},{"t":186,"y":70,"g":62,"h":40},{"t":187,"y":50,"g":45},{"t":188,"y":65,"g":58,"h":12},{"t":189,"y":40,"g":35},{"t":190,"y":30,"g":28,"h":18},{"t":191,"y":22,"g":20},
{"t":192,"y":20,"g":18},{"t":193,"y":2,"g":15,"h":5},{"t":194,"y":30,"g":22},{"t":195,"y":20,"g":18},{"t":196,"y":18,"g":15,"h":8},{"t":197,"y":15,"g":12},{"t":198,"y":14,"g":10,"h":6},{"t":199,"y":12,"g":9},{"t":200,"y":12,"g":8,"h":6},{"t":201,"y":11,"g":8},
{"t":202,"y":12,"g":9},{"t":203,"y":10,"g":7,"h":12},{"t":204,"y":15,"g":12},{"t":205,"y":45,"g":20,"h":35},{"t":206,"y":5,"g":25},{"t":207,"y":45,"g":22,"h":45},{"t":208,"y":2,"g":28},{"t":209,"y":45,"g":25},{"t":210,"y":3,"g":30,"h":42},{"t":211,"y":42,"g":32},
{"t":212,"y":40,"g":35},{"t":213,"y":2,"g":28,"h":60},{"t":214,"y":48,"g":38},{"t":215,"y":3,"g":30,"h":62},{"t":216,"y":45,"g":40},{"t":217,"y":2,"g":32,"h":52},{"t":218,"y":48,"g":42},{"t":219,"y":2,"g":35,"h":48},{"t":220,"y":45,"g":45},{"t":221,"y":3,"g":30,"h":40},
{"t":222,"y":46,"g":40},{"t":223,"y":2,"g":35,"h":50},{"t":224,"y":45,"g":42},{"t":225,"y":2,"g":38,"h":45},{"t":226,"y":48,"g":45},{"t":227,"y":2,"g":30,"h":35},{"t":228,"y":45,"g":40},{"t":229,"y":3,"g":35,"h":48},{"t":230,"y":45,"g":42},{"t":231,"y":100,"g":28,"h":25},
{"t":232,"y":2,"g":38},{"t":233,"y":45,"g":30,"h":40},{"t":234,"y":3,"g":35},{"t":235,"y":45,"g":40,"h":20},{"t":236,"y":100,"g":30},{"t":237,"y":2,"g":25,"h":18},{"t":238,"y":45,"g":20},{"t":239,"y":22,"g":15,"h":10}
    ],
    "G": [
{"t":0,"y":8,"g":7},{"t":1,"y":6,"g":5},{"t":2,"y":5,"g":4},{"t":3,"y":4,"g":3},{"t":4,"y":3,"g":2},{"t":5,"y":3,"g":2},{"t":6,"y":3,"g":2},{"t":7,"y":3,"g":2},{"t":8,"y":3,"g":3},{"t":9,"y":4,"g":3},
{"t":10,"y":5,"g":4},{"t":11,"y":7,"g":6,"h":20},{"t":12,"y":10,"g":8,"h":35},{"t":13,"y":12,"g":10},{"t":14,"y":14,"g":12},{"t":15,"y":15,"g":13,"h":25},{"t":16,"y":18,"g":14,"h":95},{"t":17,"y":90,"g":100,"h":92},{"t":18,"y":15,"g":12,"h":40},{"t":19,"y":85,"g":60,"h":95},
{"t":20,"y":18,"g":14,"h":55},{"t":21,"y":70,"g":35,"h":30},{"t":22,"y":15,"g":12,"h":15},{"t":23,"y":14,"g":12},{"t":24,"y":18,"g":14,"h":22},{"t":25,"y":70,"g":45},{"t":26,"y":65,"g":40,"h":100},{"t":27,"y":15,"g":12},{"t":28,"y":16,"g":13,"h":18},{"t":29,"y":14,"g":12},
{"t":30,"y":15,"g":13,"h":12},{"t":31,"y":70,"g":50},{"t":32,"y":15,"g":12,"h":25},{"t":33,"y":18,"g":15,"h":18},{"t":34,"y":16,"g":14},{"t":35,"y":80,"g":62,"h":100},{"t":36,"y":82,"g":95,"h":85},{"t":37,"y":80,"g":75,"h":98},{"t":38,"y":80,"g":90,"h":68},{"t":39,"y":82,"g":60,"h":100},
{"t":40,"y":15,"g":12},{"t":41,"y":90,"g":98,"h":80},{"t":42,"y":88,"g":85,"h":100},{"t":43,"y":12,"g":10,"h":25},{"t":44,"y":10,"g":9,"h":12},{"t":45,"y":9,"g":8},{"t":46,"y":9,"g":8},{"t":47,"y":8,"g":7},
{"t":48,"y":8,"g":7},{"t":49,"y":6,"g":5},{"t":50,"y":5,"g":4},{"t":51,"y":4,"g":3},{"t":52,"y":3,"g":2},{"t":53,"y":3,"g":2},{"t":54,"y":3,"g":2},{"t":55,"y":3,"g":2},{"t":56,"y":3,"g":3},{"t":57,"y":4,"g":3},
{"t":58,"y":5,"g":4},{"t":59,"y":7,"g":6},{"t":60,"y":10,"g":8,"h":18},{"t":61,"y":12,"g":10},{"t":62,"y":55,"g":12,"h":25},{"t":63,"y":12,"g":10,"h":78},{"t":64,"y":60,"g":13,"h":85},{"t":65,"y":15,"g":12},{"t":66,"y":50,"g":11,"h":15},{"t":67,"y":12,"g":10,"h":58},
{"t":68,"y":55,"g":12,"h":20},{"t":69,"y":50,"g":13,"h":75},{"t":70,"y":12,"g":10,"h":65},{"t":71,"y":52,"g":12,"h":22},{"t":72,"y":14,"g":11},{"t":73,"y":55,"g":12,"h":50},{"t":74,"y":12,"g":10},{"t":75,"y":48,"g":13,"h":18},{"t":76,"y":50,"g":12},{"t":77,"y":12,"g":10,"h":20},
{"t":78,"y":50,"g":11},{"t":79,"y":13,"g":10,"h":15},{"t":80,"y":52,"g":12},{"t":81,"y":12,"g":10},{"t":82,"y":12,"g":10,"h":22},{"t":83,"y":40,"g":12},{"t":84,"y":12,"g":10,"h":14},{"t":85,"y":45,"g":11},{"t":86,"y":12,"g":10,"h":25},{"t":87,"y":14,"g":11},
{"t":88,"y":45,"g":12},{"t":89,"y":12,"g":10,"h":55},{"t":90,"y":40,"g":11,"h":12},{"t":91,"y":12,"g":10},{"t":92,"y":12,"g":10,"h":18},{"t":93,"y":10,"g":9},{"t":94,"y":10,"g":9},{"t":95,"y":9,"g":8},
{"t":96,"y":8,"g":7},{"t":97,"y":6,"g":5},{"t":98,"y":5,"g":4},{"t":99,"y":4,"g":3},{"t":100,"y":3,"g":2},{"t":101,"y":3,"g":2},{"t":102,"y":3,"g":2},{"t":103,"y":3,"g":2},{"t":104,"y":4,"g":3},{"t":105,"y":5,"g":4},
{"t":106,"y":7,"g":6},{"t":107,"y":10,"g":8},{"t":108,"y":12,"g":10,"h":20},{"t":109,"y":14,"g":12},{"t":110,"y":45,"g":13,"h":25},{"t":111,"y":13,"g":12},{"t":112,"y":50,"g":14},{"t":113,"y":14,"g":12,"h":45},{"t":114,"y":80,"g":13,"h":100},{"t":115,"y":48,"g":12,"h":85},
{"t":116,"y":15,"g":14,"h":70},{"t":117,"y":55,"g":13,"h":22},{"t":118,"y":13,"g":12},{"t":119,"y":50,"g":13,"h":30},{"t":120,"y":45,"g":12},{"t":121,"y":14,"g":12,"h":45},{"t":122,"y":60,"g":14},{"t":123,"y":15,"g":13,"h":20},{"t":124,"y":55,"g":12},{"t":125,"y":14,"g":13,"h":65},
{"t":126,"y":12,"g":11,"h":68},{"t":127,"y":48,"g":12,"h":60},{"t":128,"y":14,"g":13,"h":50},{"t":129,"y":40,"g":12},{"t":130,"y":12,"g":11},{"t":131,"y":38,"g":12,"h":22},{"t":132,"y":13,"g":12,"h":90},{"t":133,"y":40,"g":11,"h":85},{"t":134,"y":12,"g":11,"h":20},{"t":135,"y":38,"g":12},
{"t":136,"y":12,"g":11},{"t":137,"y":13,"g":12,"h":15},{"t":138,"y":12,"g":11},{"t":139,"y":11,"g":10,"h":18},{"t":140,"y":10,"g":9},{"t":141,"y":10,"g":9},{"t":142,"y":9,"g":8},{"t":143,"y":8,"g":7},
{"t":144,"y":9,"g":8},{"t":145,"y":7,"g":6},{"t":146,"y":5,"g":4},{"t":147,"y":4,"g":3},{"t":148,"y":3,"g":2},{"t":149,"y":3,"g":2},{"t":150,"y":3,"g":2},{"t":151,"y":3,"g":2},{"t":152,"y":4,"g":3},{"t":153,"y":5,"g":4},
{"t":154,"y":7,"g":6},{"t":155,"y":10,"g":8},{"t":156,"y":12,"g":10,"h":25},{"t":157,"y":13,"g":11},{"t":158,"y":14,"g":12},{"t":159,"y":55,"g":12,"h":45},{"t":160,"y":13,"g":11},{"t":161,"y":55,"g":13},{"t":162,"y":52,"g":12,"h":20},{"t":163,"y":13,"g":11},
{"t":164,"y":55,"g":12},{"t":165,"y":14,"g":12,"h":22},{"t":166,"y":52,"g":11},{"t":167,"y":55,"g":12},{"t":168,"y":12,"g":10,"h":18},{"t":169,"y":65,"g":14},{"t":170,"y":13,"g":11,"h":15},{"t":171,"y":52,"g":12},{"t":172,"y":14,"g":11},{"t":173,"y":55,"g":12,"h":30},
{"t":174,"y":13,"g":11},{"t":175,"y":53,"g":12},{"t":176,"y":12,"g":10,"h":16},{"t":177,"y":52,"g":11},{"t":178,"y":54,"g":12},{"t":179,"y":12,"g":10,"h":14},{"t":180,"y":53,"g":11},{"t":181,"y":13,"g":11},{"t":182,"y":52,"g":12,"h":15},{"t":183,"y":12,"g":10},
{"t":184,"y":50,"g":11},{"t":185,"y":13,"g":11,"h":12},{"t":186,"y":52,"g":12},{"t":187,"y":12,"g":10},{"t":188,"y":10,"g":9,"h":12},{"t":189,"y":9,"g":8},{"t":190,"y":9,"g":8},{"t":191,"y":8,"g":7},
{"t":192,"y":9,"g":8},{"t":193,"y":7,"g":6},{"t":194,"y":5,"g":4},{"t":195,"y":4,"g":3},{"t":196,"y":3,"g":2},{"t":197,"y":3,"g":2},{"t":198,"y":3,"g":2},{"t":199,"y":3,"g":2},{"t":200,"y":3,"g":3},{"t":201,"y":4,"g":3},
{"t":202,"y":5,"g":4},{"t":203,"y":6,"g":5},{"t":204,"y":7,"g":6},{"t":205,"y":8,"g":7},{"t":206,"y":10,"g":8},{"t":207,"y":9,"g":8},{"t":208,"y":11,"g":9},{"t":209,"y":10,"g":8},{"t":210,"y":11,"g":9,"h":12},{"t":211,"y":28,"g":9},
{"t":212,"y":10,"g":8,"h":13},{"t":213,"y":30,"g":9},{"t":214,"y":10,"g":8,"h":30},{"t":215,"y":29,"g":9},{"t":216,"y":28,"g":9},{"t":217,"y":10,"g":8},{"t":218,"y":30,"g":9,"h":12},{"t":219,"y":11,"g":8},{"t":220,"y":29,"g":9},{"t":221,"y":10,"g":8},
{"t":222,"y":28,"g":9,"h":14},{"t":223,"y":10,"g":8},{"t":224,"y":29,"g":9},{"t":225,"y":10,"g":8},{"t":226,"y":28,"g":9,"h":12},{"t":227,"y":10,"g":8},{"t":228,"y":10,"g":8},{"t":229,"y":62,"g":10,"h":50},{"t":230,"y":1,"g":8,"h":48},{"t":231,"y":10,"g":9},
{"t":232,"y":8,"g":7,"h":12},{"t":233,"y":9,"g":8},{"t":234,"y":7,"g":6,"h":10},{"t":235,"y":28,"g":7},{"t":236,"y":6,"g":6},{"t":237,"y":7,"g":6},{"t":238,"y":6,"g":5},{"t":239,"y":6,"g":5,"h":45}
    ]
  },
  "bounds": "flush",
  "spacing": 40.3,
  "vconcat": [
    {
      "title": "Location A", "width": 1159, "height": 131, "data": {"name": "A"},
      "encoding": {"x": {"field": "t", "type": "quantitative", "title": null, "scale": {"domain": [-9.7, 250.3], "nice": false, "zero": false}, "axis": {"values": [24, 72, 120, 168, 216], "labelExpr": "datum.value == 24 ? 'M' : datum.value == 72 ? 'T' : datum.value == 120 ? 'W' : datum.value == 168 ? 'Th' : 'F'"}}},
      "layer": [
        {"mark": "circle", "encoding": {"y": {"field": "g", "type": "quantitative", "title": null, "scale": {"domain": [-4, 104], "nice": false, "zero": false}, "axis": {"values": [0, 50, 100], "labelExpr": "datum.value / 100"}}}},
        {"mark": "circle", "encoding": {"y": {"field": "h", "type": "quantitative"}}},
        {"mark": "line", "encoding": {"y": {"field": "y", "type": "quantitative"}}},
        {"data": {"values": [{"t": 48}, {"t": 96}, {"t": 144}, {"t": 192}]}, "mark": {"type": "rule", "strokeDash": [8, 5], "strokeWidth": 2, "color": "black"}, "encoding": {}}
      ]
    },
    {
      "title": "Location B", "width": 1159, "height": 131, "data": {"name": "B"},
      "encoding": {"x": {"field": "t", "type": "quantitative", "title": null, "scale": {"domain": [-9.7, 250.3], "nice": false, "zero": false}, "axis": {"values": [24, 72, 120, 168, 216], "labelExpr": "datum.value == 24 ? 'M' : datum.value == 72 ? 'T' : datum.value == 120 ? 'W' : datum.value == 168 ? 'Th' : 'F'"}}},
      "layer": [
        {"mark": "circle", "encoding": {"y": {"field": "g", "type": "quantitative", "title": null, "scale": {"domain": [-4, 104], "nice": false, "zero": false}, "axis": {"values": [0, 50, 100], "labelExpr": "datum.value / 100"}}}},
        {"mark": "circle", "encoding": {"y": {"field": "h", "type": "quantitative"}}},
        {"mark": "line", "encoding": {"y": {"field": "y", "type": "quantitative"}}},
        {"data": {"values": [{"t": 48}, {"t": 96}, {"t": 144}, {"t": 192}]}, "mark": {"type": "rule", "strokeDash": [8, 5], "strokeWidth": 2, "color": "black"}, "encoding": {}}
      ]
    },
    {
      "title": "Location C", "width": 1159, "height": 131, "data": {"name": "C"},
      "encoding": {"x": {"field": "t", "type": "quantitative", "title": null, "scale": {"domain": [-9.7, 250.3], "nice": false, "zero": false}, "axis": {"values": [24, 72, 120, 168, 216], "labelExpr": "datum.value == 24 ? 'M' : datum.value == 72 ? 'T' : datum.value == 120 ? 'W' : datum.value == 168 ? 'Th' : 'F'"}}},
      "layer": [
        {"mark": "circle", "encoding": {"y": {"field": "g", "type": "quantitative", "title": null, "scale": {"domain": [-4, 104], "nice": false, "zero": false}, "axis": {"values": [0, 50, 100], "labelExpr": "datum.value / 100"}}}},
        {"mark": "circle", "encoding": {"y": {"field": "h", "type": "quantitative"}}},
        {"mark": "line", "encoding": {"y": {"field": "y", "type": "quantitative"}}},
        {"data": {"values": [{"t": 48}, {"t": 96}, {"t": 144}, {"t": 192}]}, "mark": {"type": "rule", "strokeDash": [8, 5], "strokeWidth": 2, "color": "black"}, "encoding": {}}
      ]
    },
    {
      "title": "Location D", "width": 1159, "height": 131, "data": {"name": "D"},
      "encoding": {"x": {"field": "t", "type": "quantitative", "title": null, "scale": {"domain": [-9.7, 250.3], "nice": false, "zero": false}, "axis": {"values": [24, 72, 120, 168, 216], "labelExpr": "datum.value == 24 ? 'M' : datum.value == 72 ? 'T' : datum.value == 120 ? 'W' : datum.value == 168 ? 'Th' : 'F'"}}},
      "layer": [
        {"mark": "circle", "encoding": {"y": {"field": "g", "type": "quantitative", "title": null, "scale": {"domain": [-4, 104], "nice": false, "zero": false}, "axis": {"values": [0, 50, 100], "labelExpr": "datum.value / 100"}}}},
        {"mark": "circle", "encoding": {"y": {"field": "h", "type": "quantitative"}}},
        {"mark": "line", "encoding": {"y": {"field": "y", "type": "quantitative"}}},
        {"data": {"values": [{"t": 48}, {"t": 96}, {"t": 144}, {"t": 192}]}, "mark": {"type": "rule", "strokeDash": [8, 5], "strokeWidth": 2, "color": "black"}, "encoding": {}}
      ]
    },
    {
      "title": "Location E", "width": 1159, "height": 131, "data": {"name": "E"},
      "encoding": {"x": {"field": "t", "type": "quantitative", "title": null, "scale": {"domain": [-9.7, 250.3], "nice": false, "zero": false}, "axis": {"values": [24, 72, 120, 168, 216], "labelExpr": "datum.value == 24 ? 'M' : datum.value == 72 ? 'T' : datum.value == 120 ? 'W' : datum.value == 168 ? 'Th' : 'F'"}}},
      "layer": [
        {"mark": "circle", "encoding": {"y": {"field": "g", "type": "quantitative", "title": null, "scale": {"domain": [-4, 104], "nice": false, "zero": false}, "axis": {"values": [0, 50, 100], "labelExpr": "datum.value / 100"}}}},
        {"mark": "circle", "encoding": {"y": {"field": "h", "type": "quantitative"}}},
        {"mark": "line", "encoding": {"y": {"field": "y", "type": "quantitative"}}},
        {"data": {"values": [{"t": 48}, {"t": 96}, {"t": 144}, {"t": 192}]}, "mark": {"type": "rule", "strokeDash": [8, 5], "strokeWidth": 2, "color": "black"}, "encoding": {}}
      ]
    },
    {
      "title": "Location F", "width": 1159, "height": 131, "data": {"name": "F"},
      "encoding": {"x": {"field": "t", "type": "quantitative", "title": null, "scale": {"domain": [-9.7, 250.3], "nice": false, "zero": false}, "axis": {"values": [24, 72, 120, 168, 216], "labelExpr": "datum.value == 24 ? 'M' : datum.value == 72 ? 'T' : datum.value == 120 ? 'W' : datum.value == 168 ? 'Th' : 'F'"}}},
      "layer": [
        {"mark": "circle", "encoding": {"y": {"field": "g", "type": "quantitative", "title": null, "scale": {"domain": [-4, 104], "nice": false, "zero": false}, "axis": {"values": [0, 50, 100], "labelExpr": "datum.value / 100"}}}},
        {"mark": "circle", "encoding": {"y": {"field": "h", "type": "quantitative"}}},
        {"mark": "line", "encoding": {"y": {"field": "y", "type": "quantitative"}}},
        {"data": {"values": [{"t": 48}, {"t": 96}, {"t": 144}, {"t": 192}]}, "mark": {"type": "rule", "strokeDash": [8, 5], "strokeWidth": 2, "color": "black"}, "encoding": {}}
      ]
    },
    {
      "title": "Location G", "width": 1159, "height": 131, "data": {"name": "G"},
      "encoding": {"x": {"field": "t", "type": "quantitative", "title": null, "scale": {"domain": [-9.7, 250.3], "nice": false, "zero": false}, "axis": {"values": [24, 72, 120, 168, 216], "labelExpr": "datum.value == 24 ? 'M' : datum.value == 72 ? 'T' : datum.value == 120 ? 'W' : datum.value == 168 ? 'Th' : 'F'"}}},
      "layer": [
        {"mark": "circle", "encoding": {"y": {"field": "g", "type": "quantitative", "title": null, "scale": {"domain": [-4, 104], "nice": false, "zero": false}, "axis": {"values": [0, 50, 100], "labelExpr": "datum.value / 100"}}}},
        {"mark": "circle", "encoding": {"y": {"field": "h", "type": "quantitative"}}},
        {"mark": "line", "encoding": {"y": {"field": "y", "type": "quantitative"}}},
        {"data": {"values": [{"t": 48}, {"t": 96}, {"t": 144}, {"t": 192}]}, "mark": {"type": "rule", "strokeDash": [8, 5], "strokeWidth": 2, "color": "black"}, "encoding": {}}
      ]
    }
  ]
}
